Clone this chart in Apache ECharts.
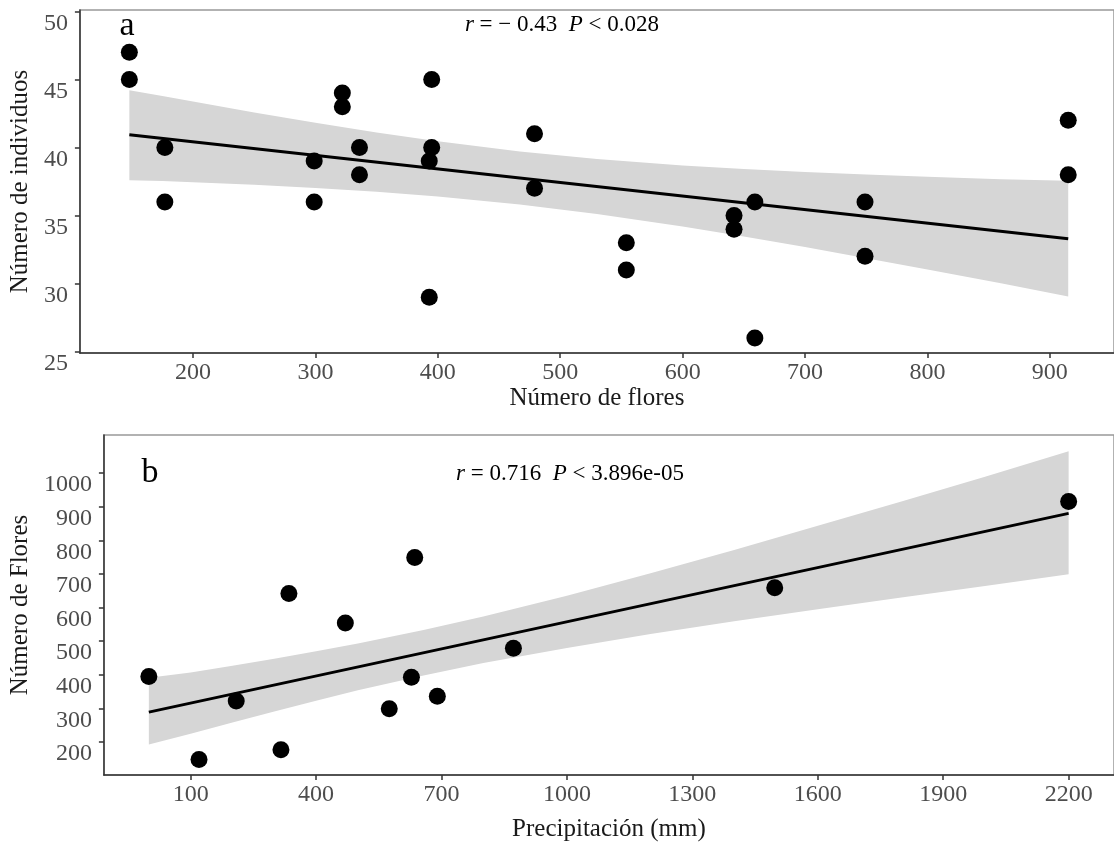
<!DOCTYPE html>
<html>
<head>
<meta charset="utf-8">
<script src="https://cdn.jsdelivr.net/npm/echarts@6/dist/echarts.min.js"></script>
<style>
  html, body { margin: 0; padding: 0; background: #fff; }
  #chart { width: 1114px; height: 844px; }
</style>
</head>
<body>
<div id="chart"></div>
<script>
// panel a: number of flowers vs number of individuals
var flores = [148, 148, 177, 177, 299, 299, 322, 322, 336, 336, 393, 393, 395, 395, 479, 479, 554, 554, 642, 642, 659, 659, 749, 749, 915, 915];
var individuos = [47, 45, 40, 36, 39, 36, 44, 43, 40, 38, 39, 29, 45, 40, 41, 37, 33, 31, 35, 34, 36, 26, 36, 32, 42, 38];
var fitAx = [148, 915];
var fitAy = [40.93, 33.3];
var bandAx = [148, 175, 200, 250, 300, 350, 400, 467, 530, 600, 650, 700, 750, 800, 860, 915];
var bandAhi = [44.2, 43.79, 43.38, 42.57, 41.82, 41.1, 40.45, 39.71, 39.15, 38.68, 38.42, 38.19, 38.01, 37.84, 37.67, 37.55];
var bandAlo = [37.6, 37.53, 37.45, 37.26, 37.02, 36.74, 36.39, 35.81, 35.11, 34.19, 33.46, 32.68, 31.87, 31.04, 30.02, 29.05];
var ticksAx = [200, 300, 400, 500, 600, 700, 800, 900];
var ticksAy = [25, 30, 35, 40, 45, 50];

// panel b: precipitation vs number of flowers
var precip = [0, 120, 209, 316, 335, 470, 575, 628, 636, 690, 872, 1497, 2200];
var floresB = [395, 148, 322, 177, 642, 554, 299, 393, 749, 336, 479, 659, 915];
var fitBx = [0, 2200];
var fitBy = [289, 880];
var bandBx = [0, 100, 200, 300, 400, 500, 657, 800, 1000, 1200, 1400, 1600, 1800, 2000, 2200];
var bandBhi = [391, 407, 427, 448, 470, 493, 533, 573, 635, 702, 771, 843, 915, 989, 1065];
var bandBlo = [193, 225, 258, 291, 323, 354, 398, 435, 480, 521, 559, 595, 630, 664, 699];
var ticksBx = [100, 400, 700, 1000, 1300, 1600, 1900, 2200];
var ticksBy = [200, 300, 400, 500, 600, 700, 800, 900, 1000];

var FONT = '"Liberation Serif", "Times New Roman", serif';

function pairs(xs, ys) {
  return xs.map(function (x, i) { return [x, ys[i]]; });
}

function bandSeries(idx, xs, hi, lo) {
  return {
    type: 'custom',
    xAxisIndex: idx, yAxisIndex: idx,
    silent: true, z: 1,
    data: [[xs[0], hi[0]]],
    renderItem: function (params, api) {
      var pts = [];
      for (var i = 0; i < xs.length; i++) pts.push(api.coord([xs[i], hi[i]]));
      for (var j = xs.length - 1; j >= 0; j--) pts.push(api.coord([xs[j], lo[j]]));
      return { type: 'polygon', shape: { points: pts }, style: { fill: '#d6d6d6' } };
    }
  };
}

function plain(v) { return String(v); }

function xAxisOf(idx, min, max, ticks, name, gap) {
  return {
    type: 'value', gridIndex: idx, min: min, max: max,
    name: name, nameLocation: 'middle', nameGap: gap,
    nameTextStyle: { fontFamily: FONT, fontSize: 25, color: '#1a1a1a' },
    axisLine: { show: true, onZero: false, lineStyle: { color: '#333', width: 1.5 } },
    axisTick: { show: true, length: 5, customValues: ticks, lineStyle: { color: '#333', width: 1.5 } },
    axisLabel: { customValues: ticks, formatter: plain, fontFamily: FONT, fontSize: 24, color: '#4d4d4d', margin: 8 },
    splitLine: { show: false }
  };
}

function yAxisOf(idx, min, max, ticks, name, gap) {
  return {
    type: 'value', gridIndex: idx, min: min, max: max,
    name: name, nameLocation: 'middle', nameGap: gap, nameRotate: 90,
    nameTextStyle: { fontFamily: FONT, fontSize: 25, color: '#1a1a1a' },
    axisLine: { show: true, onZero: false, lineStyle: { color: '#333', width: 1.5 } },
    axisTick: { show: true, length: 5, customValues: ticks, lineStyle: { color: '#333', width: 1.5 } },
    axisLabel: { customValues: ticks, formatter: plain, fontFamily: FONT, fontSize: 24, color: '#4d4d4d',
      margin: 12, verticalAlign: 'top' },
    splitLine: { show: false }
  };
}

var chart = echarts.init(document.getElementById('chart'));
var option = {
  backgroundColor: '#fff',
  animation: false,
  grid: [
    { left: 79, right: -8, top: 10, height: 343, show: true, borderColor: '#999', borderWidth: 1.5, backgroundColor: 'transparent' },
    { left: 103.5, right: -8, top: 435, height: 340, show: true, borderColor: '#999', borderWidth: 1.5, backgroundColor: 'transparent' }
  ],
  xAxis: [
    xAxisOf(0, 107.6, 952.4, ticksAx, 'Número de flores', 23),
    xAxisOf(1, -107.5, 2308.5, ticksBx, 'Precipitación (mm)', 42)
  ],
  yAxis: [
    yAxisOf(0, 24.9, 50.1, ticksAy, 'Número de individuos', 40),
    yAxisOf(1, 102, 1113, ticksBy, 'Número de Flores', 64)
  ],
  graphic: [
    { type: 'text', x: 127, y: 26, style: { text: 'a', fontFamily: FONT, fontSize: 34, fill: '#000', align: 'center', verticalAlign: 'middle' } },
    { type: 'text', x: 150, y: 473, style: { text: 'b', fontFamily: FONT, fontSize: 34, fill: '#000', align: 'center', verticalAlign: 'middle' } },
    { type: 'text', x: 562, y: 25, style: {
        text: '{i|r} = − 0.43  {i|P} < 0.028', fontFamily: FONT, fontSize: 23, fill: '#000', align: 'center', verticalAlign: 'middle',
        rich: { i: { fontStyle: 'italic', fontFamily: FONT, fontSize: 23, fill: '#000' } } } },
    { type: 'text', x: 570, y: 474, style: {
        text: '{i|r} = 0.716  {i|P} < 3.896e-05', fontFamily: FONT, fontSize: 23, fill: '#000', align: 'center', verticalAlign: 'middle',
        rich: { i: { fontStyle: 'italic', fontFamily: FONT, fontSize: 23, fill: '#000' } } } }
  ],
  series: [
    bandSeries(0, bandAx, bandAhi, bandAlo),
    { type: 'line', xAxisIndex: 0, yAxisIndex: 0, data: pairs(fitAx, fitAy), showSymbol: false, z: 2,
      lineStyle: { color: '#000', width: 3 } },
    { type: 'scatter', xAxisIndex: 0, yAxisIndex: 0, data: pairs(flores, individuos), symbolSize: 17, z: 3,
      itemStyle: { color: '#000', opacity: 1 } },
    bandSeries(1, bandBx, bandBhi, bandBlo),
    { type: 'line', xAxisIndex: 1, yAxisIndex: 1, data: pairs(fitBx, fitBy), showSymbol: false, z: 2,
      lineStyle: { color: '#000', width: 3 } },
    { type: 'scatter', xAxisIndex: 1, yAxisIndex: 1, data: pairs(precip, floresB), symbolSize: 17, z: 3,
      itemStyle: { color: '#000', opacity: 1 } }
  ]
};
chart.setOption(option);
</script>
</body>
</html>
